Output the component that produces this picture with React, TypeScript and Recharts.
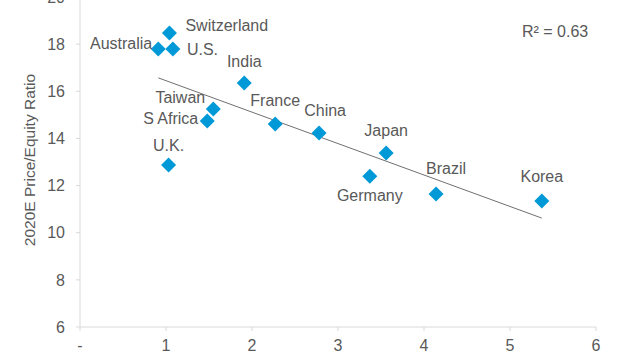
import { ScatterChart, Scatter, XAxis, YAxis } from 'recharts';

const countries = ['Switzerland', 'Australia', 'U.S.', 'India', 'Taiwan', 'S Africa', 'France', 'U.K.', 'China', 'Japan', 'Germany', 'Brazil', 'Korea'];
const xValues = [1.04, 0.91, 1.08, 1.91, 1.55, 1.48, 2.27, 1.03, 2.78, 3.56, 3.37, 4.14, 5.37];
const peRatios = [18.47, 17.79, 17.79, 16.35, 15.25, 14.74, 14.61, 12.87, 14.23, 13.38, 12.4, 11.64, 11.35];

const trendX = [0.91, 5.37];
const trendY = [16.57, 10.62];

const xTicks = [0, 1, 2, 3, 4, 5, 6];
const yTicks = [6, 8, 10, 12, 14, 16, 18, 20];

// label placement relative to each marker
const labelPos: Record<string, { dx: number; dy: number; anchor: 'start' | 'middle' | 'end' }> = {
  Switzerland: { dx: 16, dy: -8, anchor: 'start' },
  Australia: { dx: -6, dy: -6, anchor: 'end' },
  'U.S.': { dx: 14, dy: 0, anchor: 'start' },
  India: { dx: 0, dy: -22, anchor: 'middle' },
  Taiwan: { dx: -33, dy: -11, anchor: 'middle' },
  'S Africa': { dx: -9, dy: -2, anchor: 'end' },
  France: { dx: 0, dy: -24, anchor: 'middle' },
  'U.K.': { dx: 0, dy: -20, anchor: 'middle' },
  China: { dx: 6, dy: -23, anchor: 'middle' },
  Japan: { dx: 0, dy: -23, anchor: 'middle' },
  Germany: { dx: 0, dy: 19, anchor: 'middle' },
  Brazil: { dx: 10, dy: -26, anchor: 'middle' },
  Korea: { dx: 0, dy: -24, anchor: 'middle' },
};

const points = countries.map((name, i) => ({ name, x: xValues[i], y: peRatios[i] }));
const trend = trendX.map((x, i) => ({ x, y: trendY[i] }));

const textColor = '#595959';
const axisColor = '#d9d9d9';
const font = 'Arial, "Liberation Sans", sans-serif';

const DiamondWithLabel = (props: any) => {
  const { cx, cy, payload } = props;
  const r = 7.5;
  const p = labelPos[payload.name];
  return (
    <g>
      <polygon
        points={`${cx},${cy - r} ${cx + r},${cy} ${cx},${cy + r} ${cx - r},${cy}`}
        fill="#0099d8"
      />
      <text
        x={cx + p.dx}
        y={cy + p.dy}
        textAnchor={p.anchor}
        dominantBaseline="central"
        fontSize={16}
        fill={textColor}
        fontFamily={font}
      >
        {payload.name}
      </text>
    </g>
  );
};

export default function App() {
  return (
    <div style={{ position: 'absolute', left: 0, top: -15, width: 640, height: 375, fontFamily: font }}>
      <ScatterChart width={640} height={375} margin={{ top: 12, right: 44, left: 0, bottom: 3 }}>
        <XAxis
          type="number"
          dataKey="x"
          domain={[0, 6]}
          ticks={xTicks}
          tickFormatter={(v: number) => (v === 0 ? '-' : String(v))}
          height={30}
          tickSize={4}
          tickMargin={9}
          stroke={axisColor}
          tick={{ fill: textColor, fontSize: 16 }}
          allowDataOverflow
        />
        <YAxis
          type="number"
          dataKey="y"
          domain={[6, 20]}
          ticks={yTicks}
          width={80}
          tickSize={4}
          tickMargin={11}
          stroke={axisColor}
          tick={{ fill: textColor, fontSize: 16 }}
          allowDataOverflow
          label={{
            content: () => (
              <text
                x={29}
                y={175}
                transform="rotate(-90, 29, 175)"
                textAnchor="middle"
                dominantBaseline="central"
                fontSize={15.5}
                fill={textColor}
                fontFamily={font}
              >
                2020E Price/Equity Ratio
              </text>
            ),
          }}
        />
        <Scatter
          data={trend}
          line={{ stroke: '#707070', strokeWidth: 1 }}
          shape={() => <g />}
          isAnimationActive={false}
        />
        <Scatter data={points} shape={DiamondWithLabel} isAnimationActive={false} />
      </ScatterChart>
      <div
        style={{
          position: 'absolute',
          left: 522,
          top: 47 - 10,
          fontSize: 16,
          color: textColor,
          lineHeight: '20px',
        }}
      >
        R² = 0.63
      </div>
    </div>
  );
}
